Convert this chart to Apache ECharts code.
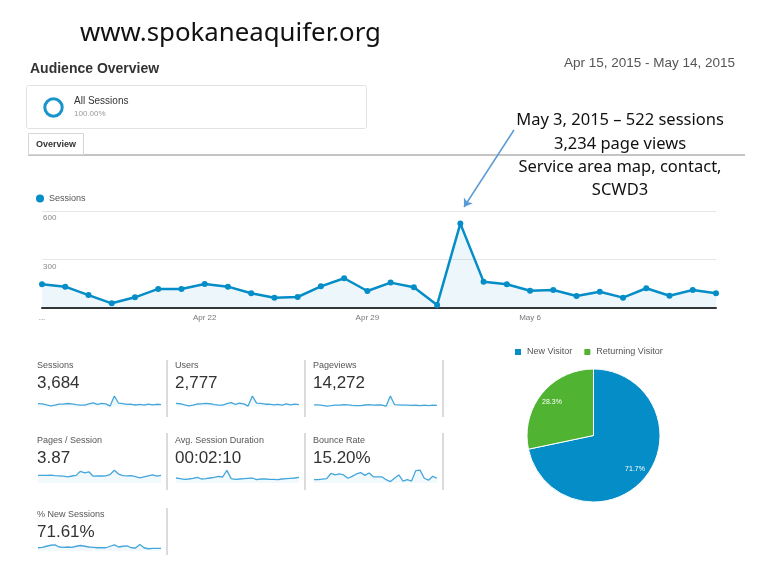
<!DOCTYPE html>
<html>
<head>
<meta charset="utf-8">
<script src="https://cdn.jsdelivr.net/npm/echarts@6/dist/echarts.min.js"></script>
<style>
  html, body { margin: 0; padding: 0; background: #fff; }
  #main { width: 770px; height: 583px; }
</style>
</head>
<body>
<div id="main"></div>
<script>
// daily data, Apr 15 - May 14 2015
var days = ["Apr 15", "Apr 16", "Apr 17", "Apr 18", "Apr 19", "Apr 20", "Apr 21", "Apr 22", "Apr 23", "Apr 24",
  "Apr 25", "Apr 26", "Apr 27", "Apr 28", "Apr 29", "Apr 30", "May 1", "May 2", "May 3", "May 4",
  "May 5", "May 6", "May 7", "May 8", "May 9", "May 10", "May 11", "May 12", "May 13", "May 14"];
var sessions = [147, 132, 80, 29, 66, 118, 118, 149, 132, 91, 64, 68, 134, 184, 105,
  157, 128, 19, 522, 163, 147, 107, 111, 74, 101, 64, 122, 76, 111, 91];
var users = [110, 100, 62, 24, 52, 90, 92, 112, 100, 70, 50, 52, 100, 138, 80,
  118, 96, 16, 380, 120, 110, 82, 84, 58, 78, 50, 92, 60, 84, 70];
var pageviews = [500, 470, 320, 120, 260, 420, 440, 540, 470, 330, 250, 260, 460, 560, 400,
  500, 460, 90, 3234, 560, 520, 410, 420, 320, 380, 270, 430, 300, 410, 360];
var pagesPerSession = [3.6, 3.6, 3.6, 3.7, 3.5, 3.4, 3.2, 2.9, 3.3, 3.6, 5.5, 4.8, 5.3, 3.2, 3.4,
  3.3, 3.4, 4.0, 6.0, 4.2, 3.5, 3.4, 3.5, 3.0, 2.4, 2.9, 3.4, 3.8, 3.2, 3.6];
var avgDuration = [150, 130, 110, 120, 140, 170, 120, 130, 150, 170, 200, 180, 380, 130, 110,
  120, 130, 140, 150, 100, 120, 120, 110, 110, 100, 120, 130, 140, 150, 170];
var bounceRate = [7, 7, 8, 9, 20, 17, 19, 17, 10, 14, 19, 22, 16, 21, 13,
  13, 13, 7, 3, 10, 17, 4, 7, 4, 26, 27, 10, 6, 14, 10];
var newSessionsPct = [66, 69, 78, 86, 89, 72, 69, 72, 69, 78, 84, 78, 72, 69, 66,
  66, 66, 78, 89, 72, 78, 81, 66, 64, 92, 66, 58, 61, 61, 61];

var metricNames = ["Sessions", "Users", "Pageviews", "Pages / Session", "Avg. Session Duration", "Bounce Rate", "% New Sessions"];
var metricTotals = ["3,684", "2,777", "14,272", "3.87", "00:02:10", "15.20%", "71.61%"];
var metricSeries = [sessions, users, pageviews, pagesPerSession, avgDuration, bounceRate, newSessionsPct];

var visitorTypes = ["New Visitor", "Returning Visitor"];
var visitorShare = [71.7, 28.3];

var annotation = ["May 3, 2015 \u2013 522 sessions", "3,234 page views", "Service area map, contact,", "SCWD3"];

// layout of the sparkline cells
var cells = [
  { x: 37, w: 123, top: 396, h: 10.5, min: 0, max: null, ty: 366 },
  { x: 175, w: 123, top: 396, h: 10.5, min: 0, max: null, ty: 366 },
  { x: 313, w: 123, top: 396, h: 10.5, min: 0, max: null, ty: 366 },
  { x: 37, w: 123, top: 469, h: 14, min: 0, max: 6.6, ty: 441 },
  { x: 175, w: 123, top: 469, h: 14, min: 0, max: 420, ty: 441 },
  { x: 313, w: 123, top: 469, h: 14, min: 0, max: 29.4, ty: 441 },
  { x: 37, w: 123, top: 543.5, h: 7.5, min: 40, max: 100, ty: 515 }
];

var BLUE = "#058DC7";
var GREEN = "#50B432";
var SANS = "'Liberation Sans', Arial, sans-serif";

var myChart = echarts.init(document.getElementById("main"));

var grids = [{ left: 42, right: 54, top: 211, height: 97 }];
var xAxes = [{
  gridIndex: 0,
  type: "category",
  boundaryGap: false,
  data: days,
  axisTick: { show: false },
  axisLine: { lineStyle: { color: "#333", width: 2 } },
  axisLabel: {
    color: "#777",
    fontSize: 8,
    fontFamily: SANS,
    margin: 6,
    interval: function (i) { return i % 7 === 0 && i <= 21; },
    formatter: function (v, i) { return i === 0 ? "..." : v; }
  }
}];
var yAxes = [{
  gridIndex: 0,
  type: "value",
  min: 0,
  max: 600,
  interval: 300,
  axisLine: { show: false },
  axisTick: { show: false },
  splitLine: { lineStyle: { color: "#e6e6e6" } },
  axisLabel: {
    inside: true,
    showMinLabel: false,
    verticalAlign: "top",
    margin: 1,
    padding: [3, 0, 0, 0],
    color: "#888",
    fontSize: 8,
    fontFamily: SANS
  }
}];

var series = [{
  name: "Sessions",
  type: "line",
  xAxisIndex: 0,
  yAxisIndex: 0,
  data: sessions,
  symbol: "circle",
  symbolSize: 6,
  showSymbol: true,
  lineStyle: { width: 2.5, color: BLUE },
  itemStyle: { color: BLUE },
  areaStyle: { color: "rgba(5,141,199,0.1)" },
  z: 3,
  markLine: {
    silent: true,
    symbol: ["none", "arrow"],
    symbolSize: 8,
    label: { show: false },
    lineStyle: { color: "#5b9bd5", width: 1.5, type: "solid" },
    data: [[{ x: 514, y: 130 }, { x: 464, y: 207 }]]
  }
}];

var graphics = [
  { type: "text", style: { text: "www.spokaneaquifer.org", x: 80, y: 34, font: "25.8px 'Noto Sans', 'Open Sans', sans-serif", fill: "#111", verticalAlign: "middle", textVerticalAlign: "middle" } },
  { type: "text", style: { text: "Audience Overview", x: 30, y: 69, font: "bold 14px " + SANS, fill: "#333", verticalAlign: "middle", textVerticalAlign: "middle" } },
  { type: "text", style: { text: "Apr 15, 2015 - May 14, 2015", x: 735, y: 63, font: "13.5px " + SANS, fill: "#555", align: "right", textAlign: "right", verticalAlign: "middle", textVerticalAlign: "middle" } },
  { type: "rect", shape: { x: 26.5, y: 85.5, width: 340, height: 43, r: 2 }, style: { fill: "#fff", stroke: "#e2e2e2", lineWidth: 1 } },
  { type: "circle", shape: { cx: 53.5, cy: 107.5, r: 8.7 }, style: { fill: "none", stroke: "#1a95cc", lineWidth: 3 } },
  { type: "text", style: { text: "All Sessions", x: 74, y: 101.5, font: "10px " + SANS, fill: "#333", verticalAlign: "middle", textVerticalAlign: "middle" } },
  { type: "text", style: { text: "100.00%", x: 74, y: 113.5, font: "8px " + SANS, fill: "#999", verticalAlign: "middle", textVerticalAlign: "middle" } },
  { type: "line", shape: { x1: 28, y1: 155, x2: 745, y2: 155 }, style: { stroke: "#c4c4c4", lineWidth: 2 } },
  { type: "rect", shape: { x: 28.5, y: 133.5, width: 55, height: 21 }, style: { fill: "#fff", stroke: "#d6d6d6", lineWidth: 1 } },
  { type: "text", style: { text: "Overview", x: 36, y: 145, font: "bold 9px " + SANS, fill: "#333", verticalAlign: "middle", textVerticalAlign: "middle" } }
];

annotation.forEach(function (line, i) {
  graphics.push({ type: "text", style: { text: line, x: 620, y: 120.5 + i * 23.3, font: "16.5px 'Noto Sans', 'Open Sans', sans-serif", fill: "#111", align: "center", textAlign: "center", verticalAlign: "middle", textVerticalAlign: "middle" } });
});

// vertical dividers between the metric cells
[[167, 360, 417], [305, 360, 417], [443, 360, 417], [167, 433, 490], [305, 433, 490], [443, 433, 490], [167, 508, 555]].forEach(function (d) {
  graphics.push({ type: "line", shape: { x1: d[0], y1: d[1], x2: d[0], y2: d[2] }, style: { stroke: "#cfcfcf", lineWidth: 1.5 } });
});

metricSeries.forEach(function (data, i) {
  var c = cells[i];
  var gi = i + 1;
  graphics.push({ type: "text", style: { text: metricNames[i], x: c.x, y: c.ty, font: "9px " + SANS, fill: "#555", verticalAlign: "middle", textVerticalAlign: "middle" } });
  graphics.push({ type: "text", style: { text: metricTotals[i], x: c.x, y: c.ty + 17.5, font: "17px " + SANS, fill: "#333", verticalAlign: "middle", textVerticalAlign: "middle" } });
  grids.push({ left: c.x + 1, top: c.top, width: c.w, height: c.h });
  xAxes.push({ gridIndex: gi, type: "category", boundaryGap: false, data: days, show: false });
  yAxes.push({ gridIndex: gi, type: "value", min: c.min, max: c.max === null ? "dataMax" : c.max, show: false, splitLine: { show: false } });
  series.push({
    name: metricNames[i],
    type: "line",
    xAxisIndex: gi,
    yAxisIndex: gi,
    data: data,
    showSymbol: false,
    silent: true,
    lineStyle: { width: 1.3, color: "#45a6dc" },
    areaStyle: { color: "rgba(5,141,199,0.08)" }
  });
});

var pieData = visitorTypes.map(function (n, i) { return { name: n, value: visitorShare[i] }; });

series.push({
  name: "Visitor type",
  type: "pie",
  center: [593.5, 435.5],
  radius: 66.5,
  startAngle: 90,
  clockwise: true,
  silent: true,
  label: { show: false },
  labelLine: { show: false },
  itemStyle: { borderColor: "#fff", borderWidth: 1 },
  color: [BLUE, GREEN],
  data: pieData
});
// transparent ring only to carry the percentage labels
series.push({
  name: "Visitor labels",
  type: "pie",
  center: [593.5, 435.5],
  radius: [35, 66],
  startAngle: 90,
  clockwise: true,
  silent: true,
  labelLine: { show: false },
  itemStyle: { color: "rgba(0,0,0,0)" },
  label: {
    show: true,
    position: "inside",
    color: "#fff",
    fontSize: 7,
    fontFamily: SANS,
    formatter: function (p) { return p.value + "%"; }
  },
  data: pieData
});

var option = {
  animation: false,
  backgroundColor: "#fff",
  legend: [
    {
      data: ["Sessions"],
      left: 36,
      top: 194,
      padding: 0,
      icon: "circle",
      itemWidth: 8,
      itemHeight: 8,
      itemGap: 5,
      textStyle: { color: "#555", fontSize: 9, fontFamily: SANS }
    },
    {
      data: visitorTypes,
      left: 513,
      top: 347,
      padding: 0,
      icon: "rect",
      itemWidth: 8,
      itemHeight: 8,
      itemGap: 10,
      textStyle: { color: "#555", fontSize: 9, fontFamily: SANS }
    }
  ],
  grid: grids,
  xAxis: xAxes,
  yAxis: yAxes,
  graphic: graphics,
  series: series
};

option && myChart.setOption(option);
</script>
</body>
</html>
